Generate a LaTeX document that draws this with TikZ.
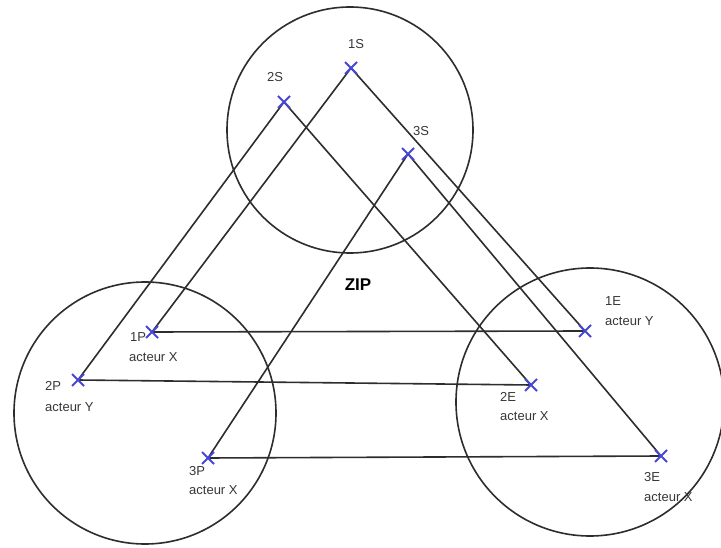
\documentclass[tikz,border=0pt]{standalone}
\usepackage{fontspec}
\setmainfont{Liberation Sans}
\usetikzlibrary{shapes.misc}
\definecolor{linec}{RGB}{45,45,45}
\definecolor{crossc}{RGB}{70,70,215}
\definecolor{textc}{RGB}{55,55,55}
\tikzset{
  pt/.style={cross out, draw=crossc, line width=2pt, minimum size=10pt, inner sep=0pt},
  link/.style={draw=linec, line width=1.6pt},
  zone/.style={draw=linec, line width=1.6pt},
  lbl/.style={anchor=west, inner sep=0pt, text=textc, font=\fontsize{13}{15}\selectfont},
  ziplbl/.style={inner sep=0pt, text=black, font=\fontsize{17}{19}\selectfont\bfseries}
}
\begin{document}
\begin{tikzpicture}[x=1pt,y=-1pt]
\useasboundingbox (0,0) rectangle (721,548);
\fill[white] (0,0) rectangle (721,548);
% zones
\draw[zone] (350,130) circle[radius=123pt];
\draw[zone] (145,413) circle[radius=131pt];
\draw[zone] (590,402) circle[radius=134pt];
% points
\coordinate (1S) at (351,68);
\coordinate (2S) at (284,102);
\coordinate (3S) at (408,154);
\coordinate (1P) at (152,332);
\coordinate (2P) at (78,380);
\coordinate (3P) at (208,458);
\coordinate (1E) at (585,331);
\coordinate (2E) at (531,385);
\coordinate (3E) at (661,456);
% links
\draw[link] (1S) -- (1P);
\draw[link] (1S) -- (1E);
\draw[link] (2S) -- (2P);
\draw[link] (2S) -- (2E);
\draw[link] (3S) -- (3P);
\draw[link] (3S) -- (3E);
\draw[link] (1P) -- (1E);
\draw[link] (2P) -- (2E);
\draw[link] (3P) -- (3E);
% crosses
\foreach \p in {1S,2S,3S,1P,2P,3P,1E,2E,3E}
  \node[pt] (m\p) at (\p) {};
% labels
\node[lbl] (t1S) at (348,44) {1S};
\node[lbl] (t2S) at (267,77) {2S};
\node[lbl] (t3S) at (413,131) {3S};
\node[lbl] (t1P) at (130,337) {1P};
\node[lbl] (a1P) at (129,357) {acteur X};
\node[lbl] (t2P) at (45,386) {2P};
\node[lbl] (a2P) at (45,407) {acteur Y};
\node[lbl] (t3P) at (189,471) {3P};
\node[lbl] (a3P) at (189,490) {acteur X};
\node[lbl] (t1E) at (605,301) {1E};
\node[lbl] (a1E) at (605,321) {acteur Y};
\node[lbl] (t2E) at (500,397) {2E};
\node[lbl] (a2E) at (500,416) {acteur X};
\node[lbl] (t3E) at (644,477) {3E};
\node[lbl] (a3E) at (644,497) {acteur X};
\node[ziplbl] (zip) at (358,285) {ZIP};
\end{tikzpicture}
\end{document}
